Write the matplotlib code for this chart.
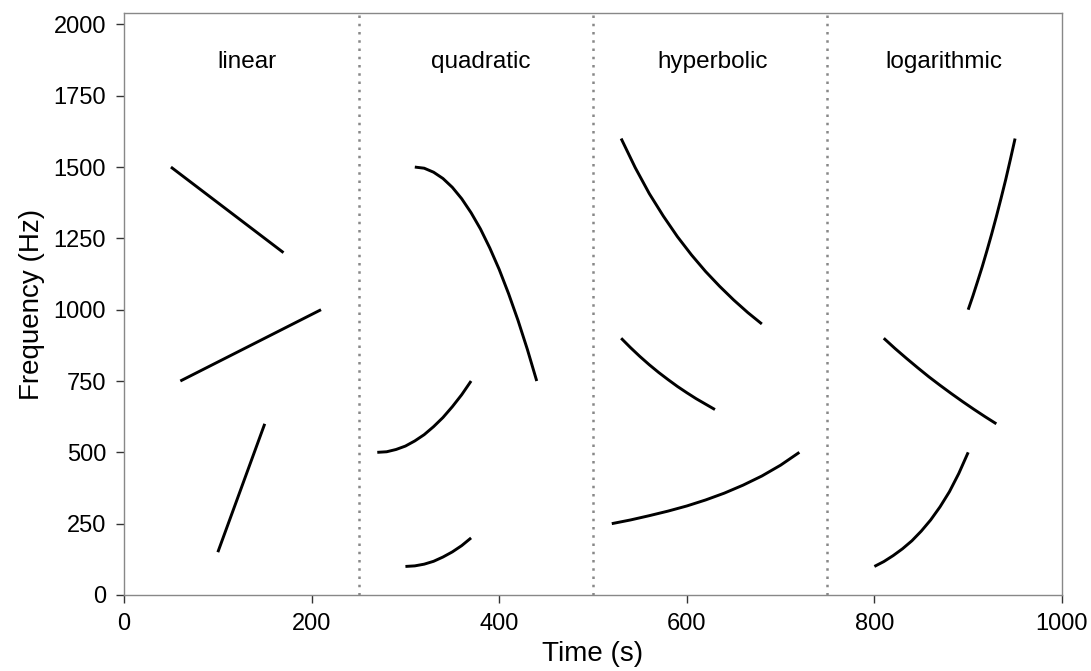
import matplotlib

matplotlib.use("Agg")

import matplotlib.pyplot as plt

plt.rcParams["font.family"] = ["Liberation Sans", "DejaVu Sans"]

# Section boundaries and titles.
section_edges = [250, 500, 750]
section_label_x = [131, 380, 628, 874]
section_names = ["linear", "quadratic", "hyperbolic", "logarithmic"]

# Linear sweeps (start and end points).
lin_a_t = [50, 170]
lin_a_f = [1500, 1200]
lin_b_t = [60, 210]
lin_b_f = [750, 1000]
lin_c_t = [100, 150]
lin_c_f = [150, 600]

# Quadratic sweeps.
quad_a_t = [310, 320, 330, 340, 350, 360, 370, 380, 390, 400, 410, 420, 430, 440]
quad_a_f = [1500, 1496, 1482, 1460, 1429, 1389, 1340, 1283, 1216, 1141, 1056, 963, 861, 750]
quad_b_t = [270, 280, 290, 300, 310, 320, 330, 340, 350, 360, 370]
quad_b_f = [500, 502, 510, 522, 540, 562, 590, 622, 660, 702, 750]
quad_c_t = [300, 310, 320, 330, 340, 350, 360, 370]
quad_c_f = [100, 102, 108, 118, 133, 151, 173, 200]

# Hyperbolic sweeps.
hyp_a_t = [530, 545, 560, 575, 590, 605, 620, 635, 650, 665, 680]
hyp_a_f = [1600, 1498, 1407, 1328, 1256, 1192, 1134, 1082, 1034, 990, 950]
hyp_b_t = [530, 540, 550, 560, 570, 580, 590, 600, 610, 620, 630]
hyp_b_f = [900, 867, 836, 807, 780, 755, 731, 709, 688, 669, 650]
hyp_c_t = [520, 540, 560, 580, 600, 620, 640, 660, 680, 700, 720]
hyp_c_f = [250, 263, 278, 294, 312, 333, 357, 385, 417, 455, 500]

# Logarithmic sweeps.
log_a_t = [900, 905, 910, 915, 920, 925, 930, 935, 940, 945, 950]
log_a_f = [1000, 1048, 1099, 1151, 1207, 1265, 1326, 1390, 1456, 1527, 1600]
log_b_t = [810, 822, 834, 846, 858, 870, 882, 894, 906, 918, 930]
log_b_f = [900, 864, 830, 797, 765, 735, 706, 678, 651, 625, 600]
log_c_t = [800, 810, 820, 830, 840, 850, 860, 870, 880, 890, 900]
log_c_f = [100, 117, 138, 162, 190, 224, 263, 309, 362, 426, 500]

sweeps = [
    (lin_a_t, lin_a_f), (lin_b_t, lin_b_f), (lin_c_t, lin_c_f),
    (quad_a_t, quad_a_f), (quad_b_t, quad_b_f), (quad_c_t, quad_c_f),
    (hyp_a_t, hyp_a_f), (hyp_b_t, hyp_b_f), (hyp_c_t, hyp_c_f),
    (log_a_t, log_a_f), (log_b_t, log_b_f), (log_c_t, log_c_f),
]

fig = plt.figure(figsize=(10.91, 6.71), dpi=100)
ax = fig.add_axes([0.1137, 0.1133, 0.8597, 0.8673])

for t, f in sweeps:
    ax.plot(t, f, color="black", linewidth=2.1, solid_capstyle="butt")

# Dotted separators between the four sweep types.
for edge in section_edges:
    ax.axvline(edge, color="#888888", linestyle=(0, (1, 2.3)), linewidth=1.8)

for x, name in zip(section_label_x, section_names):
    ax.text(x, 1870, name, ha="center", va="center", fontsize=17.5)

ax.set_xlim(0, 1000)
ax.set_ylim(0, 2040)
ax.set_xticks([0, 200, 400, 600, 800, 1000])
ax.set_yticks([0, 250, 500, 750, 1000, 1250, 1500, 1750, 2000])
ax.tick_params(labelsize=17, length=6, width=1, color="#333333", pad=7)
ax.set_xlabel("Time (s)", fontsize=20, labelpad=4)
ax.set_ylabel("Frequency (Hz)", fontsize=20, labelpad=6)

for spine in ax.spines.values():
    spine.set_color("#888888")
    spine.set_linewidth(1.0)

fig.savefig("out.png", dpi=100)
